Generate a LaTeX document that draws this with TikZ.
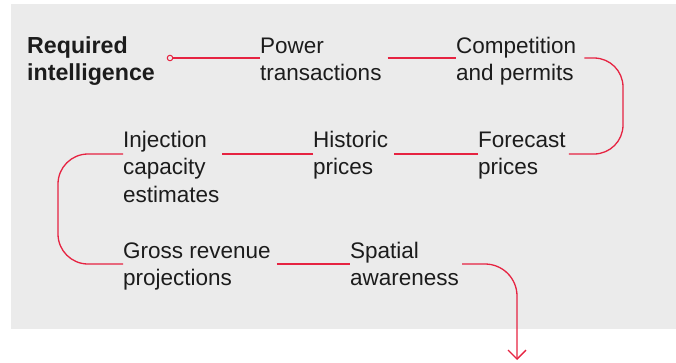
\documentclass[tikz,border=0pt]{standalone}
\usepackage{fontspec}
\setmainfont{Liberation Sans}
\usetikzlibrary{arrows.meta,calc}
\definecolor{bggray}{RGB}{235,235,235}
\definecolor{rred}{RGB}{230,35,65}
\definecolor{txt}{RGB}{28,28,28}
\tikzset{
  lbl/.style={anchor=base west,inner sep=0pt,align=left,text=txt,
    font=\fontsize{22.5}{27.5}\selectfont},
  conn/.style={draw=rred,line width=1.3pt},
}
\begin{document}
\begin{tikzpicture}[x=1pt,y=-1pt]
\useasboundingbox (0,0) rectangle (676,362);
\fill[bggray] (11,4) rectangle (676,329);
% nodes (anchored at the baseline of their last line)
\node[lbl,font=\fontsize{23.2}{27.5}\selectfont\bfseries] (ri) at (27,80.5) {Required\\intelligence};
\node[lbl] (pw) at (260,80.5) {Power\\transactions};
\node[lbl] (cp) at (456,80.5) {Competition\\and permits};
\node[lbl] (fc) at (478,174.5) {Forecast\\prices};
\node[lbl] (hp) at (313,174.5) {Historic\\prices};
\node[lbl] (ic) at (123,202) {Injection\\capacity\\estimates};
\node[lbl] (gr) at (123,285.5) {Gross revenue\\projections};
\node[lbl] (sa) at (350,285.5) {Spatial\\awareness};
\node[circle,draw=rred,fill=bggray,line width=1pt,minimum size=5.5pt,inner sep=0pt] (st) at (170,58) {};
% corner coordinates
\coordinate (c1) at (623,58);
\coordinate (c2) at (623,154);
\coordinate (c3) at (58,154);
\coordinate (c4) at (58,264);
\coordinate (c5) at (517,264);
\coordinate (end) at (517,360);
% connectors
\draw[conn] (st.east) -- (pw.west |- st.east);
\draw[conn] ([xshift=6pt]pw.east |- c1) -- (cp.west |- c1);
\draw[conn,rounded corners=29pt] ([xshift=8pt]cp.east |- c1) -- (c1) -- (c2) -- ([xshift=3pt]fc.east |- c2);
\draw[conn] (fc.west |- c2) -- ([xshift=6pt]hp.east |- c2);
\draw[conn] (hp.west |- c2) -- ([xshift=2pt]ic.east |- c2);
\draw[conn,rounded corners=30pt] (ic.west |- c3) -- (c3) -- (c4) -- (gr.west |- c4);
\draw[conn] ([xshift=6pt]gr.east |- c4) -- (sa.west |- c4);
\draw[conn,rounded corners=32pt,-{Straight Barb[length=9pt,width=18pt,line width=1.3pt]}] ([xshift=3pt]sa.east |- c5) -- (c5) -- (end);
\end{tikzpicture}
\end{document}
